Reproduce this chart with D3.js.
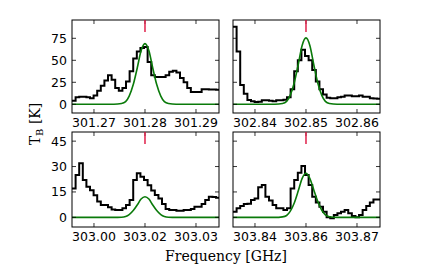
<!DOCTYPE html>
<html>
<head>
<meta charset="utf-8">
<script src="https://cdn.jsdelivr.net/npm/d3@7"></script>
<style>
  body { margin: 0; background: #fff; }
  svg text { font-family: "DejaVu Sans", sans-serif; }
</style>
</head>
<body>
<svg id="chart" width="437" height="273"></svg>
<script>
// line centres (GHz) and tick labels of each panel
const centers = [301.28, 302.85, 303.02, 303.86];
const tickLabels = [
    ["301.27", "301.28", "301.29"],
    ["302.84", "302.85", "302.86"],
    ["303.00", "303.02", "303.03"],
    ["303.84", "303.86", "303.87"],
];
const yTicksTop = [0, 25, 50, 75];
const yTicksBottom = [0, 15, 30, 45];

// channel width (GHz); spectra start at the left edge of each panel
const chanWidth = 0.000706;

const spec301 = [4, 8, 8.7, 8.5, 8, 7, 10, 15.5, 21, 27, 33, 28, 18.6, 15.5, 18.6, 26,
    37.5, 52, 60, 64, 65, 48, 33, 31, 31, 31, 33, 37, 38, 36, 30, 25, 18.6, 14, 14, 14,
    17, 17, 16.7, 16.7, 16.5];
const spec302 = [88, 60, 22, 12, 5, 3.4, 2.7, 3, 4.5, 4.5, 4, 3.4, 4.5, 4.5, 5.3, 8,
    17, 37.5, 50, 62, 55, 50, 39, 26, 17, 11, 7.5, 7, 7, 8, 8.5, 10, 10, 9, 9, 10,
    8.5, 8.5, 7, 6.5, 6.4];
const spec303a = [17, 25, 32, 22, 18, 16, 13, 9.3, 7.3, 7.3, 5.9, 4.7, 4.3, 4.3, 5.3, 7.3,
    10.2, 22, 26, 24, 22, 19, 15.8, 13.2, 11.2, 7.9, 4.9, 4.3, 4.3, 3.9, 3.9, 4.3, 4.3,
    4.9, 6.3, 6.3, 7.9, 10.2, 12.2, 12, 11.6];
const spec303b = [3.3, 5.3, 6.7, 7.9, 8, 10.2, 11.2, 17.7, 19.1, 12.2, 9.9, 7.3, 5.3, 5.3,
    4.3, 5.3, 17.1, 22, 26.4, 30.3, 25, 19.1, 12.2, 8.7, 6.3, 3.3, 0, -0.5, 1.4, 2.4, 3.3,
    4.3, 2.4, 0.8, 0, 1.4, 4.3, 6.7, 8.7, 10.6, 10.6];

// model curve, sampled at offsets (GHz) from the line centre
const modelOffsets = [-0.0143, -0.0061, -0.0046, -0.0038, -0.0031, -0.0023, -0.0015, -0.00077,
    0, 0.00077, 0.0015, 0.0023, 0.0031, 0.0038, 0.0046, 0.0061, 0.0146];
const model301 = [0, 0, 0.8, 3.0, 9.3, 22.4, 41.8, 60.9, 69, 60.9, 41.8, 22.4, 9.3, 3.0, 0.8, 0, 0];
const model302 = [0, 0, 0.8, 3.3, 10.2, 24.5, 45.8, 66.6, 75.5, 66.6, 45.8, 24.5, 10.2, 3.3, 0.8, 0, 0];
const model303a = [0, 0, 0.1, 0.5, 1.6, 4.0, 7.4, 10.8, 12.2, 10.8, 7.4, 4.0, 1.6, 0.5, 0.1, 0, 0];
const model303b = [0, 0, 0.3, 1.1, 3.5, 8.5, 15.8, 22.9, 26, 22.9, 16.5, 9.5, 4.2, 1.5, 0.4, 0, 0];

const spectra = [spec301, spec302, spec303a, spec303b];
const models = [model301, model302, model303a, model303b];

const svg = d3.select("#chart");
const cols = [[72, 219], [233, 380]];
const rows = [[20, 113], [132, 227]];
const yDomains = [[-9.9, 95.8], [-5.7, 50.4]];
const tickLen = 4;

centers.forEach((c, k) => {
    const col = k % 2, row = Math.floor(k / 2);
    const [x0, x1] = cols[col];
    const [y0, y1] = rows[row];
    const lo = c - 0.01431, hi = c + 0.01451;
    const x = d3.scaleLinear().domain([lo, hi]).range([x0, x1]);
    const y = d3.scaleLinear().domain(yDomains[row]).range([y1, y0]);
    const yTicks = row === 0 ? yTicksTop : yTicksBottom;
    const xTicks = [c - 0.01, c, c + 0.01];

    const g = svg.append("g");
    const clipId = "clip" + k;
    g.append("clipPath").attr("id", clipId)
        .append("rect").attr("x", x0).attr("y", y0)
        .attr("width", x1 - x0).attr("height", y1 - y0);

    const plot = g.append("g").attr("clip-path", `url(#${clipId})`);

    // observed spectrum as steps over channels
    const spec = spectra[k];
    const pts = spec.map((v, i) => [lo + i * chanWidth, v]);
    pts.push([lo + spec.length * chanWidth, spec[spec.length - 1]]);
    plot.append("path")
        .attr("d", d3.line().x(d => x(d[0])).y(d => y(d[1])).curve(d3.curveStepAfter)(pts))
        .attr("fill", "none").attr("stroke", "#000").attr("stroke-width", 2)
        .attr("stroke-linejoin", "miter");

    // model
    const mpts = modelOffsets.map((o, i) => [c + o, models[k][i]]);
    plot.append("path")
        .attr("d", d3.line().x(d => x(d[0])).y(d => y(d[1])).curve(d3.curveMonotoneX)(mpts))
        .attr("fill", "none").attr("stroke", "#0a7a0a").attr("stroke-width", 1.6);

    // frame
    g.append("rect").attr("x", x0).attr("y", y0)
        .attr("width", x1 - x0).attr("height", y1 - y0)
        .attr("fill", "none").attr("stroke", "#000").attr("stroke-width", 1);

    // inward ticks on all sides
    const ticks = g.append("g").attr("stroke", "#000").attr("stroke-width", 0.8);
    xTicks.forEach(t => {
        const px = x(t);
        ticks.append("line").attr("x1", px).attr("x2", px).attr("y1", y1).attr("y2", y1 - tickLen);
        ticks.append("line").attr("x1", px).attr("x2", px).attr("y1", y0).attr("y2", y0 + tickLen);
    });
    yTicks.forEach(t => {
        const py = y(t);
        ticks.append("line").attr("x1", x0).attr("x2", x0 + tickLen).attr("y1", py).attr("y2", py);
        ticks.append("line").attr("x1", x1).attr("x2", x1 - tickLen).attr("y1", py).attr("y2", py);
    });

    // line marker
    g.append("line").attr("x1", x(c)).attr("x2", x(c)).attr("y1", y0).attr("y2", y0 + 12)
        .attr("stroke", "#e0204a").attr("stroke-width", 1.5);

    // labels
    g.selectAll("text.xl").data(xTicks).join("text")
        .attr("x", d => x(d)).attr("y", y1 + 14)
        .attr("text-anchor", "middle").attr("font-size", 12.5)
        .text((d, i) => tickLabels[k][i]);
    if (col === 0) {
        g.selectAll("text.yl").data(yTicks).join("text")
            .attr("x", x0 - 5).attr("y", d => y(d) + 4.5)
            .attr("text-anchor", "end").attr("font-size", 12.5)
            .text(d => d);
    }
});

// axis titles
const yTitle = svg.append("text")
    .attr("transform", "translate(40,124) rotate(-90)")
    .attr("text-anchor", "middle")
    .style("font-family", "'DejaVu Serif', serif").attr("font-size", 14);
yTitle.append("tspan").text("T");
yTitle.append("tspan").attr("font-size", 10).attr("dy", 3).text("B");
yTitle.append("tspan").attr("dy", -3).text(" [K]");

svg.append("text")
    .attr("x", 226).attr("y", 261)
    .attr("text-anchor", "middle")
    .style("font-family", "'DejaVu Serif', serif").attr("font-size", 14)
    .text("Frequency [GHz]");
</script>
</body>
</html>
